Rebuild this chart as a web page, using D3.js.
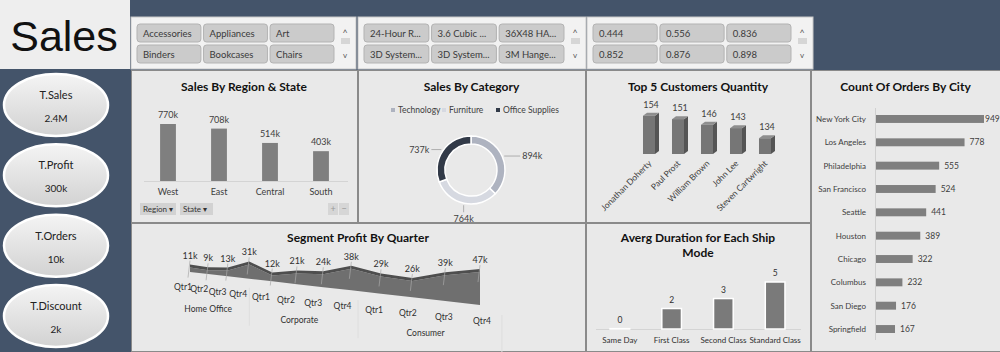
<!DOCTYPE html>
<html>
<head>
<meta charset="utf-8">
<script src="https://cdn.jsdelivr.net/npm/d3@7"></script>
<style>
  body { margin: 0; background: #44546a; overflow: hidden; }
  text { font-family: Lato, "Open Sans", sans-serif; }
</style>
</head>
<body>
<div id="chart"></div>
<script>
const W = 1000, H = 352;

// slicer items
const subCategories = ["Accessories", "Appliances", "Art", "Binders", "Bookcases", "Chairs"];
const productNames = ["24-Hour R...", "3.6 Cubic ...", "36X48 HA...", "3D System...", "3D System...", "3M Hange..."];
const discountValues = ["0.444", "0.556", "0.836", "0.852", "0.876", "0.898"];

// KPI cards
const kpiNames = ["T.Sales", "T.Profit", "T.Orders", "T.Discount"];
const kpiValues = ["2.4M", "300k", "10k", "2k"];

// charts
const regions = ["West", "East", "Central", "South"];
const regionSales = [770, 708, 514, 403];

const categories = ["Technology", "Furniture", "Office Supplies"];
const categorySales = [894, 764, 737];

const customers = ["Jonathan Doherty", "Paul Prost", "William Brown", "John Lee", "Steven Cartwright"];
const customerQty = [154, 151, 146, 143, 134];

const cities = ["New York City", "Los Angeles", "Philadelphia", "San Francisco", "Seattle",
  "Houston", "Chicago", "Columbus", "San Diego", "Springfield"];
const cityOrders = [949, 778, 555, 524, 441, 389, 322, 232, 176, 167];

const segments = ["Home Office", "Corporate", "Consumer"];
const quarters = ["Qtr1", "Qtr2", "Qtr3", "Qtr4"];
const segmentProfit = [11, 9, 13, 31, 12, 21, 24, 38, 29, 26, 39, 47];

const shipModes = ["Same Day", "First Class", "Second Class", "Standard Class"];
const shipDays = [0.04, 2.18, 3.24, 5.0];

const svg = d3.select("#chart").append("svg")
  .attr("width", W)
  .attr("height", H);

const defs = svg.append("defs");
const grad = defs.append("linearGradient").attr("id", "kpiGrad")
  .attr("x1", 0).attr("y1", 0).attr("x2", 0).attr("y2", 1);
grad.append("stop").attr("offset", "0%").attr("stop-color", "#f4f4f4");
grad.append("stop").attr("offset", "100%").attr("stop-color", "#d2d2d2");

svg.append("rect").attr("width", W).attr("height", H).attr("fill", "#44546a");

// title box
svg.append("rect").attr("x", 0).attr("y", 0).attr("width", 130).attr("height", 69).attr("fill", "#eeeeee");
svg.append("text").attr("x", 64).attr("y", 51).attr("text-anchor", "middle")
  .style("font-size", "43px").style("font-family", "'Liberation Sans', sans-serif").attr("fill", "#111")
  .text("Sales");

// slicers
function slicer(x, y, w, items) {
  const g = svg.append("g").attr("transform", `translate(${x},${y})`);
  g.append("rect").attr("width", w).attr("height", 52).attr("fill", "#f2f2f2").attr("stroke", "#c8c8c8");
  const col = d3.scaleBand().domain([0, 1, 2]).range([6, w - 22]).paddingInner(0.04);
  items.forEach((t, i) => {
    const bx = col(i % 3), by = i < 3 ? 7 : 28;
    g.append("rect").attr("x", bx).attr("y", by).attr("width", col.bandwidth()).attr("height", 18)
      .attr("rx", 3).attr("fill", "#cbcbcb").attr("stroke", "#b3b3b3");
    g.append("text").attr("x", bx + 6).attr("y", by + 12.5).attr("fill", "#3a3a3a")
      .style("font-size", "9.5px").text(t);
  });
  g.append("text").attr("x", w - 11).attr("y", 19).attr("text-anchor", "middle").attr("fill", "#555")
    .style("font-size", "9px").text("^");
  g.append("rect").attr("x", w - 15).attr("y", 21).attr("width", 9).attr("height", 6).attr("fill", "#d6d6d6");
  g.append("text").attr("x", w - 11).attr("y", 41).attr("text-anchor", "middle").attr("fill", "#555")
    .style("font-size", "8px").text("v");
}
slicer(131, 17, 225, subCategories);
slicer(358, 17, 228, productNames);
slicer(587, 17, 226, discountValues);

// KPI ellipses
const kpiY = d3.scalePoint().domain(kpiNames).range([105, 316]);
kpiNames.forEach((k, i) => {
  const cy = kpiY(k);
  svg.append("ellipse").attr("cx", 56).attr("cy", cy).attr("rx", 52).attr("ry", 31)
    .attr("fill", "url(#kpiGrad)").attr("stroke", "#ffffff").attr("stroke-width", 2.5);
  svg.append("text").attr("x", 56).attr("y", cy - 6).attr("text-anchor", "middle")
    .style("font-size", "11px").attr("fill", "#222").text(k);
  svg.append("text").attr("x", 56).attr("y", cy + 17).attr("text-anchor", "middle")
    .style("font-size", "10px").attr("fill", "#222").text(kpiValues[i]);
});

// panels
function panel(x, y, w, h, title, ty) {
  svg.append("rect").attr("x", x + 0.5).attr("y", y + 0.5).attr("width", w).attr("height", h)
    .attr("fill", "#e9e9e9").attr("stroke", "#8a8a8a");
  if (title) {
    svg.append("text").attr("x", x + w / 2).attr("y", ty).attr("text-anchor", "middle")
      .style("font-size", "12px").style("font-weight", "bold").attr("fill", "#111").text(title);
  }
}
panel(131, 70, 226, 152, "Sales By Region & State", 91);
panel(358, 70, 227, 152, "Sales By Category", 91);
panel(586, 70, 224, 152, "Top 5 Customers Quantity", 91);
panel(811, 70, 189, 281, "Count Of Orders By City", 91);
panel(131, 223, 454, 128, "Segment Profit By Quarter", 242);
panel(586, 223, 224, 128, null);
svg.append("text").attr("x", 698).attr("y", 242).attr("text-anchor", "middle")
  .style("font-size", "12px").style("font-weight", "bold").attr("fill", "#111").text("Averg Duration for Each Ship");
svg.append("text").attr("x", 698).attr("y", 257).attr("text-anchor", "middle")
  .style("font-size", "12px").style("font-weight", "bold").attr("fill", "#111").text("Mode");

// Sales by region
{
  const x = d3.scaleBand().domain(regions).range([142.5, 346.5]).paddingInner(0.69).paddingOuter(0.345);
  const y = d3.scaleLinear().domain([0, 770]).range([181, 124]);
  svg.append("line").attr("x1", 144).attr("x2", 348).attr("y1", 181.5).attr("y2", 181.5).attr("stroke", "#d4d4d4");
  regions.forEach((r, i) => {
    svg.append("rect").attr("x", x(r)).attr("y", y(regionSales[i])).attr("width", x.bandwidth())
      .attr("height", y(0) - y(regionSales[i])).attr("fill", "#7f7f7f");
    svg.append("text").attr("x", x(r) + x.bandwidth() / 2).attr("y", y(regionSales[i]) - 6)
      .attr("text-anchor", "middle").style("font-size", "9px").attr("fill", "#404040").text(regionSales[i] + "k");
    svg.append("text").attr("x", x(r) + x.bandwidth() / 2).attr("y", 195)
      .attr("text-anchor", "middle").style("font-size", "9px").attr("fill", "#404040").text(r);
  });
  [["Region ▾", 140, 36], ["State ▾", 180, 33]].forEach(([t, bx, bw]) => {
    svg.append("rect").attr("x", bx).attr("y", 203).attr("width", bw).attr("height", 12).attr("fill", "#d2d2d2");
    svg.append("text").attr("x", bx + 3).attr("y", 212).style("font-size", "8px").attr("fill", "#333").text(t);
  });
  [["+", 328], ["−", 339]].forEach(([t, bx]) => {
    svg.append("rect").attr("x", bx).attr("y", 203).attr("width", 10).attr("height", 12).attr("fill", "#d6d6d6");
    svg.append("text").attr("x", bx + 5).attr("y", 212).attr("text-anchor", "middle")
      .style("font-size", "9px").attr("fill", "#999").text(t);
  });
}

// Sales by category donut
{
  const cx = 471, cy = 170;
  const colors = ["#aeb3c0", "#d6d9e1", "#323a48"];
  const pie = d3.pie().sort(null)(categorySales);
  const arc = d3.arc().innerRadius(26).outerRadius(34);
  const g = svg.append("g").attr("transform", `translate(${cx},${cy})`);
  g.selectAll("path").data(pie).join("path")
    .attr("d", arc).attr("fill", (d, i) => colors[i]).attr("stroke", "#fff").attr("stroke-width", 1.5);
  const outer = d3.arc().innerRadius(36).outerRadius(36);
  pie.forEach((d, i) => {
    const [px, py] = outer.centroid(d);
    const a = (d.startAngle + d.endAngle) / 2;
    const s = Math.sin(a);
    let lx = px, ly = py, anchor = "middle";
    if (Math.abs(s) > 0.5) { lx = px + (s > 0 ? 16 : -10); anchor = s > 0 ? "start" : "end"; }
    else { ly = py + (-Math.cos(a) > 0 ? 7 : -7); }
    g.append("line").attr("x1", px).attr("y1", py).attr("x2", lx).attr("y2", ly)
      .attr("stroke", "#a0a0a0").attr("stroke-width", 0.8);
    g.append("text").attr("x", lx + (anchor === "start" ? 2 : anchor === "end" ? -2 : 0))
      .attr("y", ly + (anchor === "middle" ? 10 : 3))
      .attr("text-anchor", anchor).style("font-size", "9px").attr("fill", "#404040")
      .text(categorySales[i] + "k");
  });
  const lg = d3.scaleOrdinal().domain(categories).range([393, 444, 498]);
  categories.forEach((c, i) => {
    svg.append("rect").attr("x", lg(c) - 2).attr("y", 108).attr("width", 4).attr("height", 4).attr("fill", colors[i]);
    svg.append("text").attr("x", lg(c) + 5).attr("y", 112.5).style("font-size", "8.5px").attr("fill", "#404040").text(c);
  });
}

// Top 5 customers 3D columns
{
  const x = d3.scaleBand().domain(customers).range([634.5, 779.5]).paddingInner(0.586).paddingOuter(0.293);
  const y = d3.scaleLinear().domain([120, 160]).range([154, 109]);
  const dx = 4, dy = 3;
  customers.forEach((c, i) => {
    const x0 = x(c), w = x.bandwidth(), top = y(customerQty[i]), bot = y(120);
    svg.append("polygon")
      .attr("points", [[x0 + w, top], [x0 + w + dx, top - dy], [x0 + w + dx, bot - dy], [x0 + w, bot]].join(" "))
      .attr("fill", "#555555");
    svg.append("polygon")
      .attr("points", [[x0, top], [x0 + dx, top - dy], [x0 + w + dx, top - dy], [x0 + w, top]].join(" "))
      .attr("fill", "#8e8e8e");
    svg.append("rect").attr("x", x0).attr("y", top).attr("width", w).attr("height", bot - top).attr("fill", "#767676");
    svg.append("text").attr("x", x0 + w / 2 + 2).attr("y", top - 8).attr("text-anchor", "middle")
      .style("font-size", "9px").attr("fill", "#404040").text(customerQty[i]);
    svg.append("text").attr("transform", `translate(${x0 + w / 2 + 3},${bot + 10}) rotate(-45)`)
      .attr("text-anchor", "end").style("font-size", "8.5px").attr("fill", "#404040").text(c);
  });
}

// Count of orders by city
{
  const y = d3.scaleBand().domain(cities).range([107.3, 340.7]).paddingInner(0.66).paddingOuter(0.33);
  const x = d3.scaleLinear().domain([0, 949]).range([875, 983]);
  svg.append("line").attr("x1", 875.5).attr("x2", 875.5).attr("y1", 108).attr("y2", 340).attr("stroke", "#d0d0d0");
  cities.forEach((c, i) => {
    svg.append("rect").attr("x", x(0) + 1).attr("y", y(c)).attr("width", x(cityOrders[i]) - x(0))
      .attr("height", y.bandwidth()).attr("fill", "#7f7f7f");
    svg.append("text").attr("x", 866).attr("y", y(c) + y.bandwidth() / 2 + 3).attr("text-anchor", "end")
      .style("font-size", "8px").attr("fill", "#404040").text(c);
    svg.append("text").attr("x", x(cityOrders[i]) + (i === 0 ? 2 : 6)).attr("y", y(c) + y.bandwidth() / 2 + 3)
      .style("font-size", "8.5px").attr("fill", "#404040").text(cityOrders[i]);
  });
}

// Segment profit by quarter (3D area look)
{
  const n = segmentProfit.length;
  const warp = i => i + 0.048 * i * i;
  const sx = d3.scaleLinear().domain([0, warp(n - 1)]).range([190, 480]);
  const baseY = d3.scaleLinear().domain([190, 480]).range([272, 305]);
  const depth = d3.scaleLinear().domain([190, 480]).range([0.4, 0.7]);
  const pts = segmentProfit.map((v, i) => {
    const px = sx(warp(i));
    return { x: px, base: baseY(px), top: baseY(px) - v * depth(px), v };
  });
  const warpL = i => i + 0.0727 * i * i;
  const lx = d3.scaleLinear().domain([0, warpL(n - 1)]).range([183, 482]);
  const warpY = i => i + 0.036 * i * i;
  const ly = d3.scaleLinear().domain([0, warpY(n - 1)]).range([287, 321]);
  // faint floor separators between segments
  [4, 8, 12].forEach(i => {
    const xx = lx(warpL(i - 0.5));
    const yy = ly(warpY(i - 0.5));
    svg.append("line").attr("x1", xx).attr("x2", xx).attr("y1", yy - 8).attr("y2", yy + 30)
      .attr("stroke", "#dedede");
  });
  const area = d3.area().x(d => d.x).y0(d => d.base).y1(d => d.top);
  svg.append("path").datum(pts).attr("d", area).attr("fill", "#6f6f6f");
  const ribbon = d3.area().x(d => d.x).y0(d => d.top).y1(d => d.top - 3);
  svg.append("path").datum(pts).attr("d", ribbon).attr("fill", "#4e4e4e");
  pts.forEach(p => {
    svg.append("line").attr("x1", p.x).attr("x2", p.x - 2).attr("y1", p.top - 7).attr("y2", p.top + 10)
      .attr("stroke", "#a8a8a8").attr("stroke-width", 0.7);
    svg.append("text").attr("x", p.x).attr("y", p.top - 9).attr("text-anchor", "middle")
      .style("font-size", "9px").attr("fill", "#303030").text(p.v + "k");
  });
  segments.forEach((s, si) => {
    quarters.forEach((q, qi) => {
      const i = si * 4 + qi;
      svg.append("text").attr("x", lx(warpL(i))).attr("y", ly(warpY(i)) + 3).attr("text-anchor", "middle")
        .style("font-size", "8.5px").attr("fill", "#303030").text(q);
    });
    const mid = si * 4 + 1.5;
    svg.append("text").attr("x", lx(warpL(mid))).attr("y", ly(warpY(mid)) + 21).attr("text-anchor", "middle")
      .style("font-size", "8.5px").attr("fill", "#303030").text(s);
  });
}

// Average duration per ship mode
{
  const x = d3.scaleBand().domain(shipModes).range([594, 801]).paddingInner(0.62).paddingOuter(0.31);
  const y = d3.scaleLinear().domain([0, 5]).range([329, 282]);
  svg.append("line").attr("x1", 596).attr("x2", 801).attr("y1", 329.5).attr("y2", 329.5).attr("stroke", "#d4d4d4");
  shipModes.forEach((m, i) => {
    svg.append("rect").attr("x", x(m)).attr("y", y(shipDays[i])).attr("width", x.bandwidth())
      .attr("height", y(0) - y(shipDays[i])).attr("fill", "#7a7a7a").attr("stroke", "#ffffff").attr("stroke-width", 1.5);
    svg.append("text").attr("x", x(m) + x.bandwidth() / 2).attr("y", y(shipDays[i]) - 6)
      .attr("text-anchor", "middle").style("font-size", "8.5px").attr("fill", "#303030")
      .text(Math.round(shipDays[i]));
    svg.append("text").attr("x", x(m) + x.bandwidth() / 2).attr("y", 343)
      .attr("text-anchor", "middle").style("font-size", "8px").attr("fill", "#303030").text(m);
  });
}
</script>
</body>
</html>
